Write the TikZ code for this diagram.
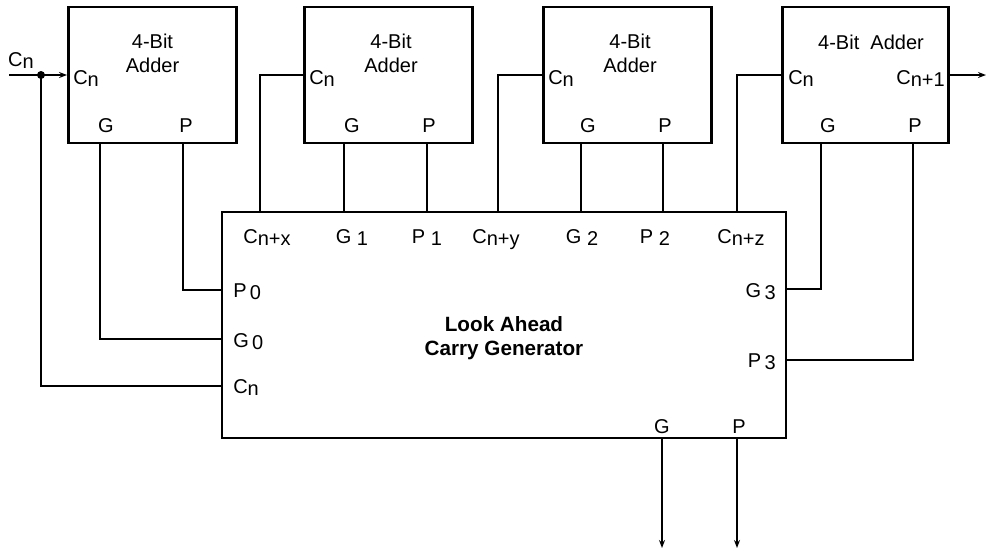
\documentclass[tikz,border=0pt]{standalone}
\usepackage{fontspec}
\setmainfont{Liberation Sans}
\usetikzlibrary{arrows.meta}

\newcommand{\lo}[1]{\raisebox{-2pt}{#1}}

\tikzset{
  box/.style={draw, line width=2.2pt, inner sep=0pt},
  adder/.style={box, minimum width=126pt, minimum height=102pt},
  wire/.style={line width=1.1pt},
  sig/.style={wire, -{Stealth[length=6pt,width=4.5pt]}},
  pin/.style={inner sep=0pt},
}

\begin{document}
\begin{tikzpicture}[x=0.75pt, y=-0.75pt, font=\fontsize{15}{18}\selectfont]
    \useasboundingbox (0,0) rectangle (989,551);

    % four adders and the carry generator
    \node[adder] (add1) at (152.5,75) {};
    \node[adder] (add2) at (388.5,75) {};
    \node[adder] (add3) at (627.5,75) {};
    \node[adder, minimum width=124pt] (add4) at (865.5,75) {};
    \node[box, minimum width=423pt, minimum height=169.5pt] (lacg) at (504,325) {};

    \node[align=center] (tit1) at (152.5,53) {4-Bit\\Adder};
    \node[align=center] (tit2) at (391,53) {4-Bit\\Adder};
    \node[align=center] (tit3) at (630,53) {4-Bit\\Adder};
    \node (tit4) at (871,42) {4-Bit\ \ Adder};
    \node[align=center, font=\fontsize{15.5}{18}\selectfont\bfseries] (tit5) at (504,338) {Look Ahead\\Carry Generator};

    % pins of the adders
    \node[pin, anchor=base west] (a1c) at (73,84) {C\lo{n}};
    \node[pin, anchor=base west] (a2c) at (309,84) {C\lo{n}};
    \node[pin, anchor=base west] (a3c) at (548,84) {C\lo{n}};
    \node[pin, anchor=base west] (a4c) at (788,84) {C\lo{n}};
    \node[pin, anchor=base east] (a4o) at (945,84) {C\lo{n+1}};
    \node[pin, anchor=base] (a1g) at (106,132) {G};
    \node[pin, anchor=base] (a1p) at (186,132) {P};
    \node[pin, anchor=base] (a2g) at (352,132) {G};
    \node[pin, anchor=base] (a2p) at (429,132) {P};
    \node[pin, anchor=base] (a3g) at (588,132) {G};
    \node[pin, anchor=base] (a3p) at (665,132) {P};
    \node[pin, anchor=base] (a4g) at (828,132) {G};
    \node[pin, anchor=base] (a4p) at (915,132) {P};

    % pins of the carry generator
    \node[pin, anchor=base] (lcx) at (267,243) {C\lo{n+x}};
    \node[pin, anchor=base] (lg1) at (352,243) {G~\lo{1}};
    \node[pin, anchor=base] (lp1) at (427,243) {P~\lo{1}};
    \node[pin, anchor=base] (lcy) at (496,243) {C\lo{n+y}};
    \node[pin, anchor=base] (lg2) at (582,243) {G~\lo{2}};
    \node[pin, anchor=base] (lp2) at (655,243) {P~\lo{2}};
    \node[pin, anchor=base] (lcz) at (741,243) {C\lo{n+z}};
    \node[pin, anchor=base west] (lp0) at (233,297) {P\,\lo{0}};
    \node[pin, anchor=base west] (lg0) at (233,347) {G\,\lo{0}};
    \node[pin, anchor=base west] (lcn) at (233,393) {C\lo{n}};
    \node[pin, anchor=base east] (lg3) at (776,297) {G\,\lo{3}};
    \node[pin, anchor=base east] (lp3) at (776,367) {P\,\lo{3}};
    \node[pin, anchor=base] (lgo) at (662,433) {G};
    \node[pin, anchor=base] (lpo) at (739,433) {P};

    % carry in
    \node[pin, anchor=base] (cin) at (21,66) {C\lo{n}};
    \coordinate (cstart) at (9,75);
    \coordinate (cdot) at (41,75);
    \coordinate (cout) at (986,75);
    \coordinate (gout) at (662,548);
    \coordinate (pout) at (737,548);
    \draw[sig] (cstart) -- (add1.west);
    \fill (cdot) circle (3pt);
    \draw[wire] (cdot) |- (lacg.west |- 0,386);

    % wires from the adders
    \draw[wire] (add1.south -| 100,0) |- (lacg.west |- 0,339);
    \draw[wire] (add1.south -| 183,0) |- (lacg.west |- 0,290);
    \draw[wire] (add2.west) -| (lacg.north -| 260,0);
    \draw[wire] (add2.south -| 344,0) -- (lacg.north -| 344,0);
    \draw[wire] (add2.south -| 427,0) -- (lacg.north -| 427,0);
    \draw[wire] (add3.west) -| (lacg.north -| 498,0);
    \draw[wire] (add3.south -| 581,0) -- (lacg.north -| 581,0);
    \draw[wire] (add3.south -| 663,0) -- (lacg.north -| 663,0);
    \draw[wire] (add4.west) -| (lacg.north -| 737,0);
    \draw[wire] (add4.south -| 821,0) |- (lacg.east |- 0,289);
    \draw[wire] (add4.south -| 913,0) |- (lacg.east |- 0,360);
    \draw[sig] (add4.east) -- (cout);

    % group outputs
    \draw[sig] (lacg.south -| gout) -- (gout);
    \draw[sig] (lacg.south -| pout) -- (pout);
\end{tikzpicture}
\end{document}
